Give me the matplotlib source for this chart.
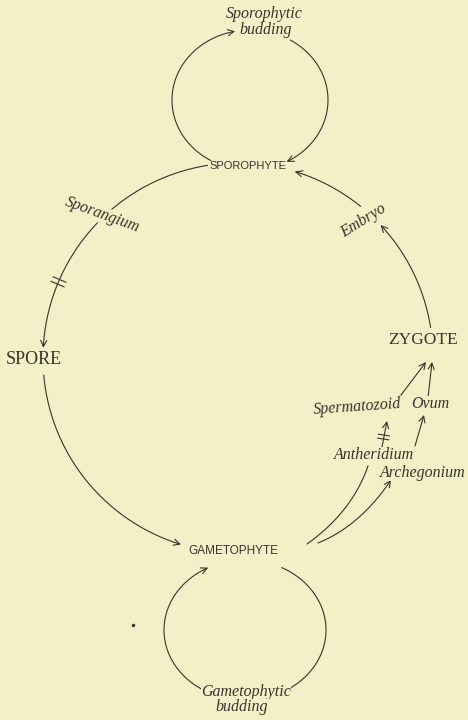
import numpy as np
import matplotlib
matplotlib.use("Agg")
import matplotlib.pyplot as plt
from matplotlib.patches import FancyArrowPatch
from matplotlib.path import Path

# Life cycle diagram, pixel coordinates (y downwards)
bg = "#f4efc6"
ink = "#36352e"

# main stages
stages = ["SPOROPHYTE", "SPORE", "GAMETOPHYTE", "ZYGOTE"]
stage_xy = [(248, 166), (34, 360), (233, 551), (423, 340)]
stage_font = ["Liberation Sans", "Liberation Serif", "Liberation Sans", "Liberation Serif"]
stage_size = [8, 13, 8.5, 12.5]

# handwritten labels
notes = ["Sporophytic", "budding", "Sporangium", "Embryo", "Spermatozoid", "Ovum",
         "Antheridium", "Archegonium", "Gametophytic", "budding"]
notes_xy = [(264, 14), (266, 30), (102, 215), (363, 221), (357, 407), (430, 404),
            (374, 455), (423, 473), (246, 692), (242, 707)]
notes_rot = [0, 0, -20, 32, 4, 0, 0, 0, 0, 0]

# big cycle (circle) and the two budding loops
big_c = (238, 358)
big_r = 195
big_arcs = [(99, 177), (185, 253), (9, 43), (51, 73)]   # start/end angles, arrow at end
top_loop = (250, 100, 78, 70)
top_arcs = [(240, 101), (59, -62)]
bot_loop = (245, 630, 81, 70)
bot_arcs = [(247, 117), (63, -62)]

# gametophyte -> sex organs (quadratic curves: start, control, end, arrow)
organ_curves = [((307, 544), (352, 512), (368, 466), False),
                ((318, 543), (360, 526), (391, 480), True)]
# straight arrows (start, end)
straight = [((382, 447), (387, 421)), ((415, 446), (424, 415)),
            ((398, 399), (426, 362)), ((428, 398), (432, 362))]

fig = plt.figure(figsize=(4.68, 7.2), dpi=100, facecolor=bg)
ax = fig.add_axes([0, 0, 1, 1])
ax.set_facecolor(bg)
ax.set_xlim(0, 468)
ax.set_ylim(720, 0)
ax.axis("off")


def draw(pts, arrow=True):
    p = FancyArrowPatch(path=Path(pts), arrowstyle="->" if arrow else "-",
                        mutation_scale=11, lw=0.8, color=ink, zorder=2)
    ax.add_patch(p)


def ellipse_pts(cx, cy, rx, ry, t0, t1):
    t = np.radians(np.linspace(t0, t1, 90))
    return np.column_stack([cx + rx * np.cos(t), cy - ry * np.sin(t)])


def hash_mark(x, y, tx, ty, length=14, gap=5):
    # two short strokes across a line whose direction is (tx, ty)
    n = np.hypot(tx, ty)
    tx, ty = tx / n, ty / n
    nx, ny = -ty, tx
    for s in (-gap / 2, gap / 2):
        mx, my = x + tx * s, y + ty * s
        ax.plot([mx - nx * length / 2, mx + nx * length / 2],
                [my - ny * length / 2, my + ny * length / 2],
                color=ink, lw=0.8, zorder=2)


for t0, t1 in big_arcs:
    draw(ellipse_pts(big_c[0], big_c[1], big_r, big_r, t0, t1))
for t0, t1 in top_arcs:
    draw(ellipse_pts(*top_loop, t0, t1))
for t0, t1 in bot_arcs:
    draw(ellipse_pts(*bot_loop, t0, t1))

for p0, pc, p1, arr in organ_curves:
    s = np.linspace(0, 1, 60)[:, None]
    pts = (1 - s) ** 2 * np.array(p0) + 2 * s * (1 - s) * np.array(pc) + s ** 2 * np.array(p1)
    draw(pts, arr)

for p0, p1 in straight:
    draw(np.array([p0, p1], dtype=float))

# hash marks on sporangium -> spore and antheridium -> spermatozoid
th = np.radians(157)
hash_mark(big_c[0] + big_r * np.cos(th), big_c[1] - big_r * np.sin(th),
          np.sin(th), np.cos(th))
hash_mark(383.5, 437, 4, -26, length=11, gap=4)

for name, (x, y), fam, sz in zip(stages, stage_xy, stage_font, stage_size):
    ax.text(x, y, name, ha="center", va="center", fontsize=sz, family=fam,
            color=ink, zorder=3)

for txt, (x, y), rot in zip(notes, notes_xy, notes_rot):
    ax.text(x, y, txt, ha="center", va="center", fontsize=11.5, family="Liberation Serif",
            style="italic", rotation=rot, rotation_mode="anchor", color=ink, zorder=3,
            bbox=dict(facecolor=bg, edgecolor="none", pad=0.3))

# small speck
ax.plot([133], [625], marker="o", ms=1.5, color=ink)

fig.savefig("out.png", dpi=100, facecolor=bg)
